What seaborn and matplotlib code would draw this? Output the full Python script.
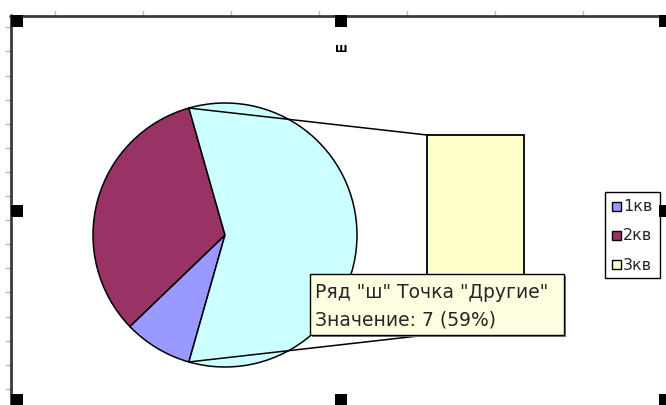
import numpy as np
import pandas as pd
import matplotlib
matplotlib.use("Agg")
import matplotlib.pyplot as plt
from matplotlib.patches import Rectangle
import seaborn as sns

# --- data -------------------------------------------------------------
series_name = "ш"
quarters = ["1кв", "2кв", "3кв"]
quarter_values = [1.0, 3.9, 7.0]
# points moved into the secondary bar ("Другие" in the main pie)
secondary_labels = ["3кв"]
other_label = "Другие"

quarter_colors = ["#9999FF", "#993366", "#FFFFCC"]
other_color = "#CCFFFF"

# --- figure in pixel units (y up) ------------------------------------
W, H = 666, 406
sns.set_theme(style="white")
plt.rcParams["font.family"] = ["DejaVu Sans"]

fig = plt.figure(figsize=(W / 100, H / 100), dpi=100)
ax = fig.add_axes([0, 0, 1, 1], zorder=1)


def Y(y_img):
    return H - y_img


df = pd.DataFrame({"quarter": quarters, "value": quarter_values,
                   "color": quarter_colors})
primary = df[~df["quarter"].isin(secondary_labels)]
secondary = df[df["quarter"].isin(secondary_labels)]
other_value = secondary["value"].sum()
total = df["value"].sum()

pie_values = list(primary["value"]) + [other_value]
pie_colors = list(primary["color"]) + [other_color]

# main pie: the "other" slice faces the secondary bar
cx, cy, r = 225, Y(236), 132
other_deg = 360 * other_value / total
ax.pie(pie_values, colors=pie_colors, startangle=-other_deg / 2,
       counterclock=False, center=(cx, cy), radius=r,
       wedgeprops=dict(edgecolor="black", linewidth=1.1))
ax.set_xlim(0, W)
ax.set_ylim(0, H)
ax.set_aspect("auto")
ax.axis("off")

# secondary stacked bar
bar_l, bar_r, bar_t, bar_b = 427, 524, 136, 336
bax = fig.add_axes([bar_l / W, Y(bar_b) / H, (bar_r - bar_l) / W,
                    (bar_b - bar_t) / H], zorder=2)
sns.barplot(data=secondary, x=np.zeros(len(secondary)), y="value",
            hue="quarter", palette=list(secondary["color"]), width=1.0,
            saturation=1.0, edgecolor="black", linewidth=1.3,
            legend=False, ax=bax)
for p in bax.patches:
    p.set_clip_on(False)
bax.set_xlim(-0.5, 0.5)
bax.set_ylim(0, other_value)
bax.axis("off")

# overlay layer for labels, legend and chart frame
top = fig.add_axes([0, 0, 1, 1], zorder=3)
top.set_xlim(0, W)
top.set_ylim(0, H)
top.axis("off")
top.patch.set_alpha(0)

# connector lines from the "other" slice to the bar corners
half = np.deg2rad(other_deg / 2)
for sgn, yb in ((1, bar_t), (-1, bar_b)):
    px = cx + r * np.cos(half)
    py = cy + sgn * r * np.sin(half)
    ax.plot([px, bar_l], [py, Y(yb)], color="black", lw=1.1, zorder=1)

# title
top.text(341, Y(48), series_name, ha="center", va="center",
         fontsize=8.5, fontweight="bold", color="black")

# legend
top.add_patch(Rectangle((605, Y(279)), 55, 86, facecolor="white",
                        edgecolor="black", lw=1.0, zorder=5))
for i, (lab, col) in enumerate(zip(quarters, quarter_colors)):
    yc = Y(207 + 29 * i)
    top.add_patch(Rectangle((612, yc - 4.5), 9, 9, facecolor=col,
                            edgecolor="black", lw=1.0, zorder=6))
    top.text(623, yc, lab, ha="left", va="center", fontsize=11.5, zorder=6)

# hover tooltip for the "other" point
pct = 100 * other_value / total
tip = (f'Ряд "{series_name}" Точка "{other_label}"\n'
       f'Значение: {other_value:g} ({pct:.0f}%)')
top.add_patch(Rectangle((312, Y(338)), 254, 61, facecolor="#7f7f7f",
                        edgecolor="none", zorder=9))
top.add_patch(Rectangle((310, Y(336)), 254, 61, facecolor="#FFFFE1",
                        edgecolor="black", lw=1.0, zorder=10))
top.text(315, Y(306), tip, ha="left", va="center", fontsize=13.5,
         linespacing=1.55, zorder=11)

# chart-area frame, sheet grid marks and selection handles
frame = "#3a3a3a"
top.plot([10, W], [Y(16.5), Y(16.5)], color=frame, lw=2, zorder=20)
top.plot([11, 11], [Y(16), 0], color=frame, lw=2, zorder=20)
for x in np.arange(55, W, 88):
    top.plot([x, x], [Y(12), Y(15.5)], color="#b5b5b5", lw=1, zorder=19)
for y in np.arange(28.3, H, 24.1):
    top.plot([6, 10], [Y(y), Y(y)], color="#b5b5b5", lw=1, zorder=19)

hx = [11, 335, 659]
hy = [16, 206, 395]
for xh in hx:
    for yh in hy:
        if xh == 335 and yh == 206:
            continue
        top.add_patch(Rectangle((xh, Y(yh + 12)), 12, 12, facecolor="black",
                                edgecolor="none", zorder=21))

fig.savefig("out.png", dpi=100)
